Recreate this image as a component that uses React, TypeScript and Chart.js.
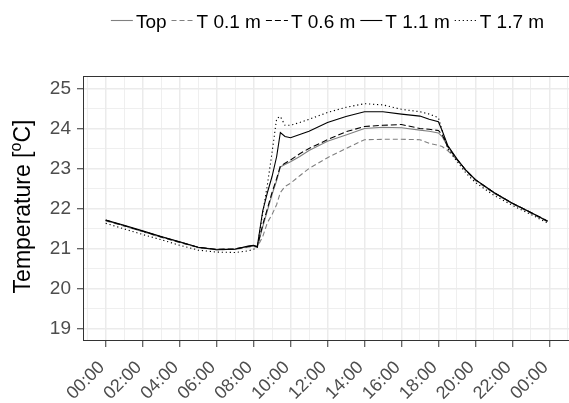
import React, { useEffect, useRef } from "react";
import { Chart, registerables } from "chart.js";

Chart.register(...registerables);

// ---- data ----
const hours = [0, 1, 2, 3, 4, 5, 6, 7, 7.7, 8, 8.2, 8.5, 8.75, 9, 9.25, 9.45, 9.7, 10, 10.5, 11, 12, 13, 14, 15, 16, 17, 17.5, 18, 18.2, 18.5, 19, 19.5, 20, 21, 22, 23, 23.9];

const topSeries = [21.7, 21.57, 21.43, 21.29, 21.16, 21.03, 20.98, 20.99, 21.05, 21.06, 21.04, 21.55, 21.95, 22.35, 22.7, 23.04, 23.1, 23.17, 23.3, 23.45, 23.68, 23.84, 24.0, 24.03, 24.02, 23.96, 23.93, 23.89, 23.8, 23.55, 23.23, 22.95, 22.72, 22.4, 22.13, 21.9, 21.69];
const t01Series = [21.69, 21.56, 21.42, 21.28, 21.15, 21.02, 20.97, 20.98, 21.03, 21.05, 21.03, 21.3, 21.65, 21.85, 22.1, 22.4, 22.55, 22.63, 22.82, 23.0, 23.27, 23.5, 23.72, 23.73, 23.73, 23.72, 23.63, 23.58, 23.55, 23.45, 23.22, 22.93, 22.7, 22.38, 22.12, 21.88, 21.67];
const t06Series = [21.71, 21.57, 21.43, 21.29, 21.16, 21.03, 20.98, 20.99, 21.05, 21.07, 21.04, 21.6, 22.0, 22.4, 22.75, 23.06, 23.13, 23.21, 23.37, 23.5, 23.72, 23.92, 24.05, 24.08, 24.1, 24.0, 23.98, 23.95, 23.85, 23.55, 23.23, 22.95, 22.72, 22.4, 22.13, 21.9, 21.69];
const t11Series = [21.71, 21.58, 21.44, 21.3, 21.17, 21.03, 20.97, 20.98, 21.06, 21.08, 21.05, 21.95, 22.4, 22.8, 23.3, 23.9, 23.8, 23.77, 23.85, 23.93, 24.15, 24.3, 24.42, 24.42, 24.36, 24.31, 24.23, 24.17, 23.95, 23.58, 23.24, 22.95, 22.72, 22.4, 22.13, 21.9, 21.68];
const t17Series = [21.63, 21.49, 21.35, 21.22, 21.08, 20.96, 20.91, 20.9, 20.94, 20.98, 21.03, 21.9, 22.6, 23.4, 24.25, 24.3, 24.08, 24.08, 24.15, 24.23, 24.4, 24.53, 24.62, 24.59, 24.48, 24.42, 24.36, 24.27, 23.95, 23.5, 23.18, 22.88, 22.65, 22.33, 22.08, 21.85, 21.64];

const seriesLabels = ["Top", "T 0.1 m", "T 0.6 m", "T 1.1 m", "T 1.7 m"];
const seriesValues = [topSeries, t01Series, t06Series, t11Series, t17Series];

const xTickHours = [0, 2, 4, 6, 8, 10, 12, 14, 16, 18, 20, 22, 24];
const xTickLabels = ["00:00", "02:00", "04:00", "06:00", "08:00", "10:00", "12:00", "14:00", "16:00", "18:00", "20:00", "22:00", "00:00"];
const yTickValues = [19, 20, 21, 22, 23, 24, 25];
const yTitleParts = ["Temperature [", "o", "C]"];

// ---- styling ----
const FONT = '"Liberation Sans", Arial, sans-serif';
const seriesStyles = [
  { color: "#808080", dash: [] as number[] },
  { color: "#808080", dash: [5, 3] },
  { color: "#000000", dash: [6, 3] },
  { color: "#000000", dash: [] as number[] },
  { color: "#000000", dash: [1.2, 2.8] },
];

const X_MIN = -1.2;
const X_MAX = 25.2;
const Y_MIN = 18.7;
const Y_MAX = 25.3;

const xGrid: number[] = [];
for (let v = -1; v <= 25; v += 1) xGrid.push(v);
const yGrid: number[] = [];
for (let v = 19; v <= 25.001; v += 0.5) yGrid.push(Math.round(v * 10) / 10);

const isMajorX = (v: number) => xTickHours.includes(v);
const isMajorY = (v: number) => yTickValues.includes(v);

const panelPlugin = {
  id: "panelDecor",
  beforeDraw(chart: any) {
    const ctx = chart.ctx;
    ctx.save();
    ctx.fillStyle = "#ffffff";
    ctx.fillRect(0, 0, chart.width, chart.height);
    ctx.restore();
  },
  afterDraw(chart: any) {
    const ctx = chart.ctx;
    const a = chart.chartArea;
    ctx.save();
    // panel border
    ctx.strokeStyle = "#333333";
    ctx.lineWidth = 1;
    ctx.setLineDash([]);
    ctx.strokeRect(a.left, a.top, a.right - a.left, a.bottom - a.top);

    // y axis title with superscript
    ctx.save();
    ctx.translate(30, (a.top + a.bottom) / 2 - 2);
    ctx.rotate(-Math.PI / 2);
    const big = `23px ${FONT}`;
    const small = `16px ${FONT}`;
    ctx.font = big;
    const w1 = ctx.measureText(yTitleParts[0]).width;
    const w3 = ctx.measureText(yTitleParts[2]).width;
    ctx.font = small;
    const w2 = ctx.measureText(yTitleParts[1]).width;
    let tx = -(w1 + w2 + w3) / 2;
    ctx.fillStyle = "#000000";
    ctx.textAlign = "left";
    ctx.textBaseline = "alphabetic";
    ctx.font = big;
    ctx.fillText(yTitleParts[0], tx, 0);
    tx += w1;
    ctx.font = small;
    ctx.fillText(yTitleParts[1], tx, -9);
    tx += w2;
    ctx.font = big;
    ctx.fillText(yTitleParts[2], tx, 0);
    ctx.restore();

    // legend
    ctx.font = `19px ${FONT}`;
    const keyW = 22;
    const gapKT = 3;
    const gapItem = 5;
    const widths = seriesLabels.map((l) => ctx.measureText(l).width);
    const total = widths.reduce((s, w) => s + keyW + gapKT + w, 0) + gapItem * (seriesLabels.length - 1);
    let lx = (a.left + a.right) / 2 - total / 2;
    const yLine = 20.5;
    const yText = 27.5;
    seriesLabels.forEach((label, i) => {
      const st = seriesStyles[i];
      ctx.beginPath();
      ctx.strokeStyle = st.color;
      ctx.lineWidth = 1.1;
      ctx.setLineDash(st.dash);
      ctx.lineDashOffset = 0;
      ctx.moveTo(lx, yLine);
      ctx.lineTo(lx + keyW, yLine);
      ctx.stroke();
      ctx.setLineDash([]);
      lx += keyW + gapKT;
      ctx.fillStyle = "#000000";
      ctx.textAlign = "left";
      ctx.textBaseline = "alphabetic";
      ctx.fillText(label, lx, yText);
      lx += widths[i] + gapItem;
    });
    ctx.restore();
  },
};

export default function App() {
  const canvasRef = useRef<HTMLCanvasElement | null>(null);

  useEffect(() => {
    const canvas = canvasRef.current;
    if (!canvas) return;
    const chart = new Chart(canvas, {
      type: "line",
      data: {
        datasets: seriesValues.map((vals, i) => ({
          label: seriesLabels[i],
          data: hours.map((h, j) => ({ x: h, y: vals[j] })),
          borderColor: seriesStyles[i].color,
          borderDash: seriesStyles[i].dash,
          borderWidth: 1.1,
          pointRadius: 0,
          fill: false,
          tension: 0,
          order: 5 - i,
        })),
      },
      options: {
        responsive: false,
        animation: false,
        devicePixelRatio: 1,
        layout: { padding: { top: 76.5, right: 8.5, left: 0, bottom: 0 } },
        plugins: {
          legend: { display: false },
          tooltip: { enabled: false },
          title: { display: false },
        },
        elements: { point: { radius: 0 }, line: { tension: 0 } },
        scales: {
          x: {
            type: "linear",
            min: X_MIN,
            max: X_MAX,
            afterBuildTicks: (s: any) => {
              s.ticks = xGrid.map((v) => ({ value: v }));
            },
            afterFit: (s: any) => {
              s.height = 62.5;
              s.paddingLeft = 0;
              s.paddingRight = 0;
            },
            border: { display: false },
            grid: {
              color: "#EBEBEB",
              lineWidth: (c: any) => (c.tick && isMajorX(c.tick.value) ? 1.5 : 0.8),
              drawTicks: true,
              tickLength: 6.5,
              tickWidth: 1,
              tickColor: (c: any) => (c.tick && isMajorX(c.tick.value) ? "#333333" : "rgba(0,0,0,0)"),
            },
            ticks: {
              autoSkip: false,
              minRotation: 45,
              maxRotation: 45,
              padding: 10,
              labelOffset: -3.8,
              color: "#4D4D4D",
              font: { family: FONT, size: 18 },
              callback: (v: any) => {
                const i = xTickHours.indexOf(Number(v));
                return i >= 0 ? xTickLabels[i] : "";
              },
            },
          },
          y: {
            type: "linear",
            min: Y_MIN,
            max: Y_MAX,
            afterBuildTicks: (s: any) => {
              s.ticks = yGrid.map((v) => ({ value: v }));
            },
            afterFit: (s: any) => {
              s.width = 83.5;
              s.paddingTop = 0;
              s.paddingBottom = 0;
            },
            border: { display: false },
            grid: {
              color: "#EBEBEB",
              lineWidth: (c: any) => (c.tick && isMajorY(c.tick.value) ? 1.5 : 0.8),
              drawTicks: true,
              tickLength: 6.5,
              tickWidth: 1,
              tickColor: (c: any) => (c.tick && isMajorY(c.tick.value) ? "#333333" : "rgba(0,0,0,0)"),
            },
            ticks: {
              autoSkip: false,
              padding: 6,
              color: "#4D4D4D",
              font: { family: FONT, size: 19 },
              callback: (v: any) => {
                const n = Number(v);
                return isMajorY(n) ? String(n) : "";
              },
            },
          },
        },
      },
      plugins: [panelPlugin],
    } as any);
    return () => chart.destroy();
  }, []);

  return (
    <div
      style={{
        position: "fixed",
        left: 0,
        top: 0,
        width: 569,
        height: 403,
        overflow: "hidden",
        background: "#ffffff",
      }}
    >
      <canvas ref={canvasRef} width={580} height={403} style={{ display: "block" }} />
    </div>
  );
}
